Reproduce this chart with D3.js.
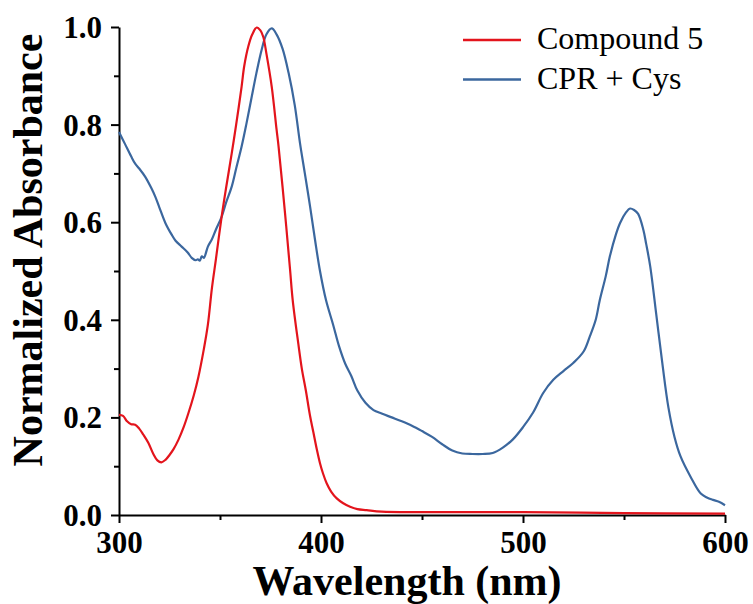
<!DOCTYPE html>
<html>
<head>
<meta charset="utf-8">
<script src="https://cdn.jsdelivr.net/npm/d3@7"></script>
<style>
  html, body { margin: 0; padding: 0; background: #fff; }
  svg { display: block; }
</style>
</head>
<body>
<svg id="chart" width="753" height="604"></svg>
<script>
// ---- data ----
const seriesNames = ["Compound 5", "CPR + Cys"];
const xTicks = [300, 400, 500, 600];
const yTicks = [0.0, 0.2, 0.4, 0.6, 0.8, 1.0];

const compoundWl = [300, 302, 304, 306, 308, 310, 312, 314.5, 317, 319, 321, 323, 325, 327, 329.4, 332, 334.3, 337, 339.3, 342, 344, 346, 348, 350.8, 353, 355.8, 358, 360.7, 362, 364, 366, 368.2, 370, 371.4, 373, 375.6, 378, 379, 382.2, 384.7, 386, 388.8, 390.5, 392.5, 394.5, 396.2, 398, 399.5, 401, 402.8, 405, 407.8, 411, 414.4, 418, 422.6, 430, 450, 500, 550, 600];
const compoundAbs = [0.205, 0.203, 0.192, 0.186, 0.185, 0.177, 0.165, 0.148, 0.125, 0.112, 0.108, 0.113, 0.123, 0.135, 0.154, 0.180, 0.208, 0.245, 0.283, 0.340, 0.390, 0.465, 0.525, 0.611, 0.670, 0.741, 0.800, 0.878, 0.920, 0.960, 0.985, 0.999, 0.993, 0.980, 0.945, 0.878, 0.790, 0.755, 0.618, 0.502, 0.440, 0.350, 0.300, 0.255, 0.205, 0.170, 0.133, 0.106, 0.085, 0.065, 0.048, 0.034, 0.024, 0.017, 0.012, 0.010, 0.007, 0.006, 0.006, 0.004, 0.003];

const cprWl = [300, 303, 306, 308, 310, 313, 316, 318, 320, 323, 326, 328, 331, 334, 336, 338, 339, 340, 341, 342, 344, 346, 348, 350.8, 353, 355.8, 358, 360.7, 363, 365.7, 368, 370.6, 373, 375.6, 378, 381, 384, 387, 389.6, 392, 394.6, 397, 399.5, 402.5, 406, 409, 412, 415, 418, 422, 426, 430, 435, 440, 445, 450, 455, 460, 465, 470, 475, 480, 485, 490, 495, 500, 505, 510, 515, 520, 525, 530, 533, 536, 538, 541, 543, 546, 548, 551, 553, 555, 557, 559.6, 561, 563, 566, 569, 572, 575, 578, 583, 588, 591, 594, 597, 600];
const cprAbs = [0.785, 0.760, 0.735, 0.720, 0.710, 0.693, 0.670, 0.652, 0.630, 0.598, 0.575, 0.562, 0.550, 0.538, 0.527, 0.522, 0.524, 0.521, 0.530, 0.527, 0.550, 0.565, 0.585, 0.611, 0.640, 0.673, 0.710, 0.755, 0.800, 0.857, 0.905, 0.953, 0.985, 0.997, 0.985, 0.955, 0.905, 0.840, 0.762, 0.700, 0.632, 0.565, 0.500, 0.440, 0.390, 0.345, 0.310, 0.285, 0.255, 0.230, 0.215, 0.208, 0.200, 0.192, 0.183, 0.172, 0.160, 0.145, 0.132, 0.126, 0.125, 0.125, 0.127, 0.138, 0.155, 0.180, 0.210, 0.250, 0.277, 0.295, 0.312, 0.335, 0.365, 0.400, 0.440, 0.490, 0.530, 0.575, 0.598, 0.620, 0.628, 0.625, 0.617, 0.584, 0.555, 0.509, 0.410, 0.310, 0.220, 0.160, 0.120, 0.078, 0.044, 0.036, 0.031, 0.027, 0.020];

const colors = ["#e3141c", "#3b679e"];

// ---- chart ----
const svg = d3.select("#chart");
const x = d3.scaleLinear().domain([300, 600]).range([119, 725]);
const y = d3.scaleLinear().domain([0, 1]).range([515, 27]);

const FONT = "'Liberation Serif', 'Times New Roman', serif";

// minor ticks
svg.append("g")
  .attr("transform", "translate(0,515)")
  .call(d3.axisBottom(x).tickValues([350, 450, 550]).tickSize(5).tickFormat(""))
  .call(g => g.select(".domain").remove())
  .call(g => g.selectAll("line").attr("stroke", "#000").attr("stroke-width", 2));
svg.append("g")
  .attr("transform", "translate(119,0)")
  .call(d3.axisLeft(y).tickValues([0.1, 0.3, 0.5, 0.7, 0.9]).tickSize(5).tickFormat(""))
  .call(g => g.select(".domain").remove())
  .call(g => g.selectAll("line").attr("stroke", "#000").attr("stroke-width", 2));

// major axes
const xAxis = svg.append("g")
  .attr("transform", "translate(0,515)")
  .call(d3.axisBottom(x).tickValues(xTicks).tickSize(8).tickPadding(8).tickSizeOuter(0).tickFormat(d3.format("d")));
const yAxis = svg.append("g")
  .attr("transform", "translate(119,0)")
  .call(d3.axisLeft(y).tickValues(yTicks).tickSize(8).tickPadding(9).tickSizeOuter(0).tickFormat(d3.format(".1f")));

[xAxis, yAxis].forEach(g => {
  g.select(".domain").attr("stroke", "#000").attr("stroke-width", 2);
  g.selectAll(".tick line").attr("stroke", "#000").attr("stroke-width", 2);
  g.selectAll(".tick text")
    .attr("fill", "#000")
    .style("font-family", FONT)
    .style("font-weight", "bold")
    .style("font-size", "31px");
});
yAxis.selectAll(".tick text").attr("dy", "0.34em");

// lines
const line = d3.line().curve(d3.curveCatmullRom.alpha(0.5)).x(d => x(d[0])).y(d => y(d[1]));
const series = [
  d3.zip(compoundWl, compoundAbs),
  d3.zip(cprWl, cprAbs)
];
svg.append("path").datum(series[1])
  .attr("d", line).attr("fill", "none")
  .attr("stroke", colors[1]).attr("stroke-width", 2.2).attr("stroke-linejoin", "round");
svg.append("path").datum(series[0])
  .attr("d", line).attr("fill", "none")
  .attr("stroke", colors[0]).attr("stroke-width", 2.2).attr("stroke-linejoin", "round");

// axis titles
svg.append("text")
  .attr("x", 407).attr("y", 595)
  .attr("text-anchor", "middle")
  .style("font-family", FONT).style("font-weight", "bold").style("font-size", "42px")
  .text("Wavelength (nm)");
svg.append("text")
  .attr("transform", "translate(42,250) rotate(-90)")
  .attr("text-anchor", "middle")
  .style("font-family", FONT).style("font-weight", "bold").style("font-size", "42px")
  .text("Normalized Absorbance");

// legend
const legend = svg.append("g");
seriesNames.forEach((name, i) => {
  const ly = 40 + i * 39.5;
  legend.append("line")
    .attr("x1", 463).attr("x2", 521).attr("y1", ly).attr("y2", ly)
    .attr("stroke", colors[i]).attr("stroke-width", 2.5);
  legend.append("text")
    .attr("x", 537).attr("y", ly + 9)
    .style("font-family", FONT).style("font-size", "32px").attr("fill", "#000")
    .text(name);
});
</script>
</body>
</html>
